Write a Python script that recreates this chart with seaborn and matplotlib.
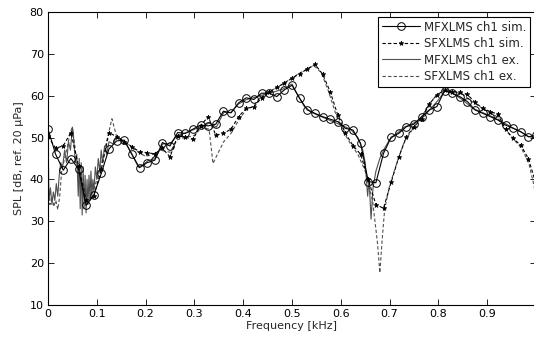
import numpy as np
import pandas as pd
import seaborn as sns
import matplotlib
matplotlib.use("Agg")
import matplotlib.pyplot as plt

# ---------------- data ----------------
# simulated curves sampled every 1/64 kHz
sim_freq = [k / 64 for k in range(65)]
mf_sim = [52.0, 46.0, 42.2, 45.0, 42.5, 33.8, 36.2, 41.5, 47.3, 49.2,
          49.4, 46.0, 42.8, 44.0, 44.6, 48.8, 48.0, 51.2, 51.0, 52.0,
          53.0, 52.8, 53.2, 56.3, 55.9, 58.3, 59.5, 59.1, 60.6, 60.6,
          59.8, 61.4, 62.5, 59.4, 56.6, 55.8, 55.0, 54.4, 53.8, 52.2,
          51.8, 48.6, 39.5, 39.2, 46.2, 50.1, 51.0, 52.6, 53.2, 55.0,
          56.6, 57.4, 61.2, 60.6, 59.8, 58.6, 56.6, 55.8, 55.0, 54.2,
          53.0, 52.2, 51.4, 50.2, 50.5]
sf_sim = [50.3, 47.5, 48.0, 51.2, 43.2, 35.0, 36.0, 42.5, 51.2, 50.2,
          49.0, 47.8, 46.6, 46.4, 46.1, 47.4, 45.4, 50.4, 50.1, 49.6,
          52.8, 55.0, 50.6, 51.0, 52.0, 55.0, 57.0, 57.3, 59.5, 60.8,
          62.0, 63.0, 64.2, 65.2, 66.4, 67.5, 65.2, 61.0, 55.4, 51.0,
          48.1, 46.0, 40.0, 34.0, 33.1, 39.3, 45.3, 50.2, 52.6, 54.5,
          58.0, 60.2, 61.3, 61.0, 60.8, 60.3, 58.4, 57.0, 56.2, 55.6,
          52.0, 49.8, 48.2, 45.0, 39.0]

# experimental curves (finer, irregular frequency grid)
mf_ex_freq = [0.000, 0.002, 0.005, 0.008, 0.011, 0.014, 0.017, 0.020, 0.023, 0.026,
              0.030, 0.034, 0.038, 0.042, 0.046, 0.050, 0.053, 0.056, 0.059, 0.062,
              0.064, 0.066, 0.068, 0.070, 0.072, 0.074, 0.076, 0.078, 0.080, 0.082,
              0.084, 0.086, 0.088, 0.090, 0.092, 0.094, 0.097, 0.100, 0.103, 0.106,
              0.109, 0.112, 0.116, 0.120, 0.125, 0.133, 0.140, 0.150, 0.160, 0.172,
              0.185, 0.195, 0.205, 0.220, 0.235, 0.250, 0.265, 0.280, 0.300, 0.315,
              0.330, 0.345, 0.360, 0.375, 0.390, 0.405, 0.420, 0.440, 0.460, 0.480,
              0.500, 0.510, 0.525, 0.540, 0.560, 0.580, 0.600, 0.620, 0.635, 0.645,
              0.650, 0.655, 0.658, 0.662, 0.666, 0.672, 0.680, 0.690, 0.700, 0.715,
              0.730, 0.750, 0.770, 0.785, 0.800, 0.815, 0.830, 0.850, 0.870, 0.890,
              0.910, 0.930, 0.950, 0.970, 0.985, 1.000]
mf_ex = [51.5, 35.0, 38.0, 34.0, 37.0, 35.0, 39.0, 36.0, 41.0, 44.0,
         43.0, 47.0, 44.0, 49.0, 47.0, 52.5, 49.0, 44.0, 46.0, 36.0,
         45.0, 33.0, 44.0, 31.5, 43.0, 33.0, 41.0, 32.0, 40.0, 34.0,
         41.0, 35.0, 42.0, 36.0, 40.0, 37.0, 43.0, 40.0, 45.0, 42.0,
         47.0, 44.0, 48.0, 46.0, 49.0, 48.5, 50.0, 49.5, 48.5, 46.0,
         43.0, 43.5, 44.5, 45.0, 48.5, 48.5, 50.5, 51.0, 52.0, 52.5,
         53.5, 52.5, 56.0, 56.0, 58.0, 59.0, 59.5, 60.2, 60.8, 61.5,
         62.8, 60.5, 57.5, 56.0, 55.0, 54.0, 53.0, 52.0, 50.0, 47.0,
         44.0, 36.0, 40.0, 30.5, 38.0, 42.0, 45.0, 47.5, 49.5, 51.0,
         52.5, 53.5, 55.0, 57.0, 59.0, 61.5, 60.5, 59.0, 57.0, 56.0,
         55.0, 53.8, 52.5, 51.3, 50.2, 50.0]

sf_ex_freq = [0.000, 0.004, 0.008, 0.012, 0.016, 0.020, 0.024, 0.028, 0.032, 0.036,
              0.040, 0.045, 0.050, 0.055, 0.060, 0.065, 0.070, 0.075, 0.080, 0.085,
              0.090, 0.095, 0.100, 0.110, 0.120, 0.131, 0.140, 0.155, 0.170, 0.185,
              0.200, 0.215, 0.230, 0.250, 0.265, 0.280, 0.300, 0.315, 0.330, 0.335,
              0.338, 0.345, 0.360, 0.375, 0.390, 0.405, 0.420, 0.435, 0.450, 0.470,
              0.490, 0.510, 0.530, 0.545, 0.560, 0.575, 0.590, 0.605, 0.620, 0.635,
              0.650, 0.665, 0.675, 0.680, 0.685, 0.690, 0.700, 0.715, 0.730, 0.750,
              0.765, 0.780, 0.795, 0.810, 0.830, 0.850, 0.870, 0.890, 0.905, 0.920,
              0.940, 0.955, 0.970, 0.985, 0.995, 1.000]
sf_ex = [37.0, 34.0, 36.0, 33.5, 35.0, 32.8, 36.0, 42.0, 44.0, 46.0,
         48.0, 51.0, 52.5, 48.0, 43.0, 40.0, 37.0, 35.0, 34.0, 35.0,
         37.0, 38.0, 40.0, 44.0, 49.0, 54.5, 50.5, 49.0, 48.0, 46.5,
         45.5, 46.0, 47.0, 46.5, 49.5, 50.0, 50.5, 52.5, 52.0, 47.0,
         43.8, 45.5, 49.0, 51.0, 54.0, 56.5, 57.5, 59.5, 60.8, 62.0,
         63.5, 65.0, 66.3, 67.2, 65.5, 61.0, 55.5, 51.5, 48.5, 46.0,
         42.0, 35.0, 25.0, 17.7, 26.0, 33.0, 38.5, 44.0, 49.0, 52.5,
         54.8, 57.8, 60.0, 61.2, 61.0, 60.3, 58.5, 57.0, 56.0, 55.0,
         51.5, 49.5, 47.5, 44.0, 39.0, 36.0]

labels = ["MFXLMS ch1 sim.", "SFXLMS ch1 sim.", "MFXLMS ch1 ex.", "SFXLMS ch1 ex."]
xticks = [0, 0.1, 0.2, 0.3, 0.4, 0.5, 0.6, 0.7, 0.8, 0.9]
xticklabels = ["0", "0.1", "0.2", "0.3", "0.4", "0.5", "0.6", "0.7", "0.8", "0.9"]
yticks = [10, 20, 30, 40, 50, 60, 70, 80]

# ---------------- style ----------------
sns.set_style("ticks")
plt.rcParams["font.family"] = ["DejaVu Sans"]
plt.rcParams["font.size"] = 8

fig = plt.figure(figsize=(5.34, 3.46), dpi=100)
ax = fig.add_axes([48 / 534, 1 - 305 / 346, 488 / 534, 293 / 346])

gray = "#505050"
sns.lineplot(x=mf_ex_freq, y=mf_ex, ax=ax, sort=False, estimator=None,
             color=gray, linewidth=0.8, linestyle="-", label=labels[2], zorder=2)
sns.lineplot(x=sf_ex_freq, y=sf_ex, ax=ax, sort=False, estimator=None,
             color=gray, linewidth=0.8, linestyle=(0, (3, 2)), label=labels[3], zorder=2)
sns.lineplot(x=sim_freq, y=mf_sim, ax=ax, sort=False, estimator=None,
             color="black", linewidth=0.8, linestyle="-", marker="o",
             markersize=5.5, markerfacecolor="none", markeredgecolor="black",
             markeredgewidth=0.7, label=labels[0], zorder=3)
sns.lineplot(x=sim_freq, y=sf_sim, ax=ax, sort=False, estimator=None,
             color="black", linewidth=0.8, linestyle=(0, (3, 2)), marker="*",
             markersize=3.5, markerfacecolor="black", markeredgecolor="black",
             markeredgewidth=0.5, label=labels[1], zorder=3)

ax.set_xlim(0, 1)
ax.set_ylim(10, 80)
ax.set_xticks(xticks)
ax.set_xticklabels(xticklabels)
ax.set_yticks(yticks)
ax.tick_params(direction="in", top=True, right=True, length=4, width=0.6,
               labelsize=8, pad=3, colors="black")
for s in ax.spines.values():
    s.set_visible(True)
    s.set_linewidth(0.8)
    s.set_color("black")
ax.set_xlabel("Frequency [kHz]", fontsize=8, labelpad=1)
ax.set_ylabel("SPL [dB, ref. 20 \u03bcPa]", fontsize=8, labelpad=4)

handles, labs = ax.get_legend_handles_labels()
order = [labs.index(l) for l in labels]
leg = ax.legend([handles[i] for i in order], [labs[i] for i in order],
                loc="upper right", bbox_to_anchor=(0.988, 0.983),
                borderaxespad=0, frameon=True, fancybox=False, framealpha=1,
                edgecolor="black", fontsize=8.5, handlelength=3.2,
                labelspacing=0.3, borderpad=0.3, handletextpad=0.4)
leg.get_frame().set_linewidth(0.8)

fig.savefig("out.png", dpi=100, facecolor="white")
